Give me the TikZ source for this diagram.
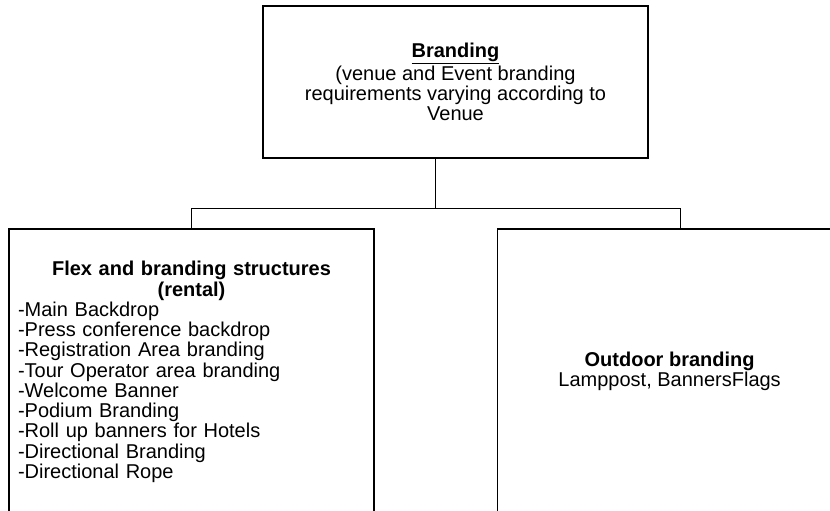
\documentclass[tikz,border=0pt]{standalone}
\usepackage{fontspec}
\setmainfont{Liberation Sans}
\usetikzlibrary{positioning,calc}

\begin{document}
\begin{tikzpicture}[x=0.75pt, y=-0.75pt,
		every node/.style={font=\fontsize{15}{15.2}\selectfont},
		box/.style={draw, line width=1.2pt, minimum width=273.75pt, minimum height=214.5pt},
		link/.style={line width=0.75pt}]
		\useasboundingbox (0,0) rectangle (830,510);
		\clip (0,0) rectangle (830,510);
		\node[draw, line width=1.2pt, minimum width=288.75pt, minimum height=114pt, align=center] (brand) at (455.5,82)
			{\textbf{\underline{Branding}}\\(venue and Event branding\\requirements varying according to\\Venue};
		\node[box, align=left, text width=260.25pt, inner xsep=6.75pt] (flex) at (191.5,372)
			{{\centering\textbf{Flex and branding structures\\(rental)}\par}
			-Main Backdrop\\-Press conference backdrop\\-Registration Area branding\\-Tour Operator area branding\\
			-Welcome Banner\\-Podium Branding\\-Roll up banners for Hotels\\-Directional Branding\\-Directional Rope};
		\node[box] (outdoor)[right=91.5pt of flex]{};
		\node[align=center] (outdoor-txt) at ($(outdoor.center)+(-10.5,-1)$) {\textbf{Outdoor branding}\\Lamppost, BannersFlags};
		% org chart connectors
		\coordinate (fork) at ($(flex.north)!0.5!(outdoor.north)+(0,-20)$);
		\draw[link] (brand.south -| fork) -- (fork);
		\draw[link] (flex.north) |- (fork) -| (outdoor.north);
	\end{tikzpicture}
\end{document}
